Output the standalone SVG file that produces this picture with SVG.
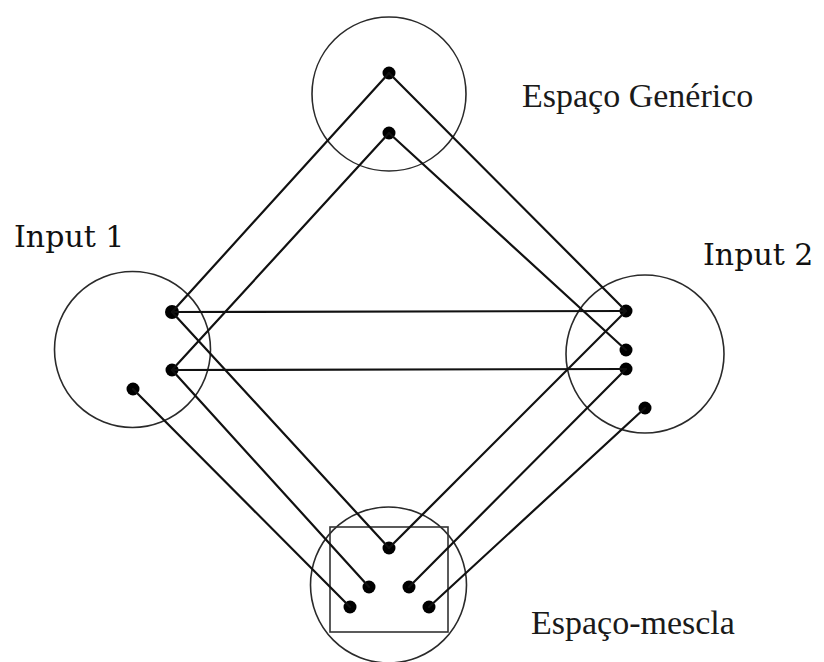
<svg xmlns="http://www.w3.org/2000/svg" width="824" height="662" viewBox="0 0 824 662">
  <style>
    .space { fill: none; stroke: #2a2a2a; stroke-width: 1.6; }
    .frame { fill: none; stroke: #333; stroke-width: 1.6; }
    .link { stroke: #111; stroke-width: 2.2; stroke-linecap: round; }
    .pt { fill: #000; }
    .label { font-family: "Liberation Serif", "Times New Roman", serif; font-size: 34px; fill: #1a1a1a; }
    .input { font-family: "DejaVu Serif", Georgia, serif; font-size: 30px; fill: #111; }
  </style>
  <rect width="824" height="662" fill="#fff"/>

  <!-- mental spaces: circles with their elements -->
  <g id="generic-space">
    <circle class="space" cx="389" cy="94" r="77"/>
    <circle class="pt" cx="389" cy="73" r="6.5"/>
    <circle class="pt" cx="389" cy="133" r="6.5"/>
    <text class="label" x="522" y="107">Espaço Genérico</text>
  </g>

  <g id="input-1">
    <circle class="space" cx="132.5" cy="349.5" r="78"/>
    <circle class="pt" cx="172" cy="312" r="7"/>
    <circle class="pt" cx="172" cy="370" r="6.5"/>
    <circle class="pt" cx="133" cy="389" r="6.5"/>
    <text class="input" x="14" y="247">Input 1</text>
  </g>

  <g id="input-2">
    <circle class="space" cx="645" cy="354" r="79"/>
    <circle class="pt" cx="626" cy="311" r="6.5"/>
    <circle class="pt" cx="626" cy="350" r="6.5"/>
    <circle class="pt" cx="626" cy="369" r="6.5"/>
    <circle class="pt" cx="645" cy="408" r="6.5"/>
    <text class="input" x="703" y="265">Input 2</text>
  </g>

  <g id="blend-space">
    <circle class="space" cx="388.5" cy="585" r="78"/>
    <rect class="frame" x="330" y="527" width="118" height="105"/>
    <circle class="pt" cx="389" cy="548" r="6.5"/>
    <circle class="pt" cx="369" cy="587" r="6.5"/>
    <circle class="pt" cx="409" cy="587" r="6.5"/>
    <circle class="pt" cx="350" cy="607" r="6.5"/>
    <circle class="pt" cx="429" cy="607" r="6.5"/>
    <text class="label" x="531" y="634">Espaço-mescla</text>
  </g>

  <!-- cross-space mappings and projections -->
  <g id="connectors">
    <line class="link" x1="389" y1="73" x2="172" y2="312"/>
    <line class="link" x1="389" y1="73" x2="626" y2="311"/>
    <line class="link" x1="389" y1="133" x2="172" y2="370"/>
    <line class="link" x1="389" y1="133" x2="626" y2="350"/>
    <line class="link" x1="172" y1="312" x2="626" y2="311"/>
    <line class="link" x1="172" y1="370" x2="626" y2="369"/>
    <line class="link" x1="172" y1="312" x2="389" y2="548"/>
    <line class="link" x1="172" y1="370" x2="369" y2="587"/>
    <line class="link" x1="133" y1="389" x2="350" y2="607"/>
    <line class="link" x1="626" y1="311" x2="389" y2="548"/>
    <line class="link" x1="626" y1="369" x2="409" y2="587"/>
    <line class="link" x1="645" y1="408" x2="429" y2="607"/>
  </g>
</svg>
